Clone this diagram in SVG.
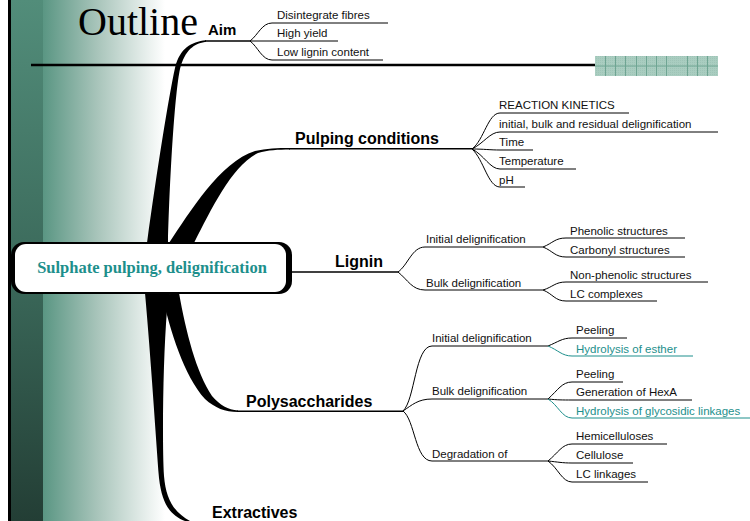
<svg xmlns="http://www.w3.org/2000/svg" width="750" height="521" viewBox="0 0 750 521">
<defs>
<linearGradient id="gH" x1="43" y1="0" x2="165" y2="0" gradientUnits="userSpaceOnUse">
<stop offset="0" stop-color="#5a9683"/>
<stop offset="0.45" stop-color="#a9c5bb"/>
<stop offset="1" stop-color="#ffffff"/>
</linearGradient>
<linearGradient id="gV" x1="0" y1="0" x2="0" y2="521" gradientUnits="userSpaceOnUse">
<stop offset="0" stop-color="#528d7a"/>
<stop offset="0.5" stop-color="#3c6b5c"/>
<stop offset="1" stop-color="#233e35"/>
</linearGradient>
<pattern id="chk" x="0" y="0" width="2" height="2" patternUnits="userSpaceOnUse">
<rect width="2" height="2" fill="#a9cdc0"/>
<rect width="1" height="1" fill="#9fc4b7"/>
</pattern>
</defs>
<style>
.sm{font-family:"Liberation Sans",Arial,sans-serif;font-size:11.5px;fill:#111}
.tl{fill:#1d8f8c}
.bg{font-family:"Liberation Sans",Arial,sans-serif;font-size:16px;font-weight:bold;fill:#000}
.c{fill:none;stroke:#000;stroke-width:1}
.ct{fill:none;stroke:#1d8f8c;stroke-width:1}
.m{fill:none;stroke:#000;stroke-width:1.5}
.tr{fill:#000}
</style>
<rect width="750" height="521" fill="#fff"/>
<g id="background">
<rect x="43" y="0" width="130" height="521" fill="url(#gH)"/>
<rect x="11" y="0" width="32" height="521" fill="url(#gV)"/>
<rect x="8" y="0" width="3" height="521" fill="#000"/>
<line x1="31" y1="65" x2="596" y2="65" stroke="#000" stroke-width="2.4"/>
<rect x="595" y="56" width="123" height="20" fill="url(#chk)"/>
<g stroke="#6fa593" stroke-width="1">
<line x1="595" y1="66" x2="718" y2="66"/>
<line x1="605.5" y1="56" x2="605.5" y2="76"/>
<line x1="615.5" y1="56" x2="615.5" y2="76"/>
<line x1="625.5" y1="56" x2="625.5" y2="76"/>
<line x1="636.5" y1="56" x2="636.5" y2="76"/>
<line x1="646.5" y1="56" x2="646.5" y2="76"/>
<line x1="656.5" y1="56" x2="656.5" y2="76"/>
<line x1="666.5" y1="56" x2="666.5" y2="76"/>
<line x1="687.5" y1="56" x2="687.5" y2="76"/>
<line x1="697.5" y1="56" x2="697.5" y2="76"/>
<line x1="707.5" y1="56" x2="707.5" y2="76"/>
</g>
<text x="78" y="35" font-family="'Liberation Serif','Times New Roman',serif" font-size="40" fill="#000">Outline</text>
</g>
<g id="connectors">
<path class="tr" d="M147,243 C157,170 169,95 175,68 C180,48 191,42 206,40.3 L206,41.8 C194,43.5 185,50 180,69 C175,92 170,170 168,243 Z"/>
<path class="m" d="M205,41 L250,41"/>
<path class="tr" d="M169,243 C190,212 220,162 255,151 C266,148.5 278,148 290,148 L290,149.5 C278,149.5 268,150 258,153 C232,166 212,208 194,243 Z"/>
<path class="m" d="M289,148.8 L472,148.8"/>
<path class="tr" d="M145,293 C151,360 156,440 159,478 C162,504 170,515 185,521 L190,521 C174,512 166,500 164,476 C162,440 163,360 167,310 L170,293 Z"/>
<path class="tr" d="M162,295 C170,330 184,376 205,399 C215,408 225,412 238,412 L238,410.5 C228,410 220,405 212,396 C196,372 186,332 179,293 Z"/>
<path class="m" d="M237,411.3 L403,411.3"/>
<path class="m" d="M291,272 L398,272"/>
<path class="c" d="M250,41 C258,35 262,23 272,23 L388,23"/>
<path class="c" d="M250,41 L338,41"/>
<path class="c" d="M250,41 C258,47 262,60 272,60 L383,60"/>
<path class="c" d="M472,149 C484,140 488,113 500,113 L629,113"/>
<path class="c" d="M472,149 C484,143 490,132 500,132 L718,132"/>
<path class="c" d="M472,149 C484,149 490,150 500,150 L533,150"/>
<path class="c" d="M472,149 C484,155 490,169 500,169 L576,169"/>
<path class="c" d="M472,149 C484,160 488,187 500,187 L525,187"/>
<path class="c" d="M398,272 C408,265 412,247 425,247 L543,247"/>
<path class="c" d="M398,272 C408,280 412,290 425,290 L543,290"/>
<path class="c" d="M543,247 C553,243 555,238 566,238 L685,238"/>
<path class="c" d="M543,247 C553,251 555,257 566,257 L685,257"/>
<path class="c" d="M543,290 C553,287 555,282 566,282 L708,282"/>
<path class="c" d="M543,290 C553,294 555,301 566,301 L657,301"/>
<path class="c" d="M403,411 C415,400 415,346 432,346 L548,346"/>
<path class="c" d="M403,411 C412,405 418,399 432,399 L548,399"/>
<path class="c" d="M403,411 C415,420 415,461 432,461 L548,461"/>
<path class="c" d="M548,346 C558,342 562,338 572,338 L627,338"/>
<path class="ct" d="M548,346 C558,350 562,356 572,356 L693,356"/>
<path class="c" d="M548,399 C558,390 562,382 572,382 L623,382"/>
<path class="c" d="M548,399 C558,400 562,400 572,400 L692,400"/>
<path class="ct" d="M548,399 C558,405 562,418 572,418 L750,418"/>
<path class="c" d="M548,461 C558,453 562,444 572,444 L667,444"/>
<path class="c" d="M548,461 C558,462 562,463 572,463 L633,463"/>
<path class="c" d="M548,461 C558,468 562,482 572,482 L648,482"/>
</g>
<g id="center">
<rect x="11" y="242" width="281" height="52" rx="13" fill="#000"/>
<rect x="15" y="244" width="271" height="48" rx="11" fill="#fff"/>
<text x="152" y="273" text-anchor="middle" font-family="'Liberation Serif','Times New Roman',serif" font-size="16.5" font-weight="bold" fill="#1d8f8c">Sulphate pulping, delignification</text>
</g>
<g id="aim">
<text x="208" y="35" class="bg" style="font-size:15px">Aim</text>
<text x="277" y="19" class="sm">Disintegrate fibres</text>
<text x="277" y="37" class="sm">High yield</text>
<text x="277" y="56" class="sm">Low lignin content</text>
</g>
<g id="pulping">
<text x="295" y="144" class="bg">Pulping conditions</text>
<text x="499" y="109" class="sm">REACTION KINETICS</text>
<text x="499" y="128" class="sm">initial, bulk and residual delignification</text>
<text x="499" y="146" class="sm">Time</text>
<text x="499" y="165" class="sm">Temperature</text>
<text x="499" y="184" class="sm">pH</text>
</g>
<g id="lignin">
<text x="335" y="267" class="bg">Lignin</text>
<text x="426" y="243" class="sm">Initial delignification</text>
<text x="426" y="287" class="sm">Bulk delignification</text>
<text x="570" y="235" class="sm">Phenolic structures</text>
<text x="570" y="254" class="sm">Carbonyl structures</text>
<text x="570" y="279" class="sm">Non-phenolic structures</text>
<text x="570" y="298" class="sm">LC complexes</text>
</g>
<g id="polysaccharides">
<text x="246" y="407" class="bg">Polysaccharides</text>
<text x="432" y="342" class="sm">Initial delignification</text>
<text x="432" y="395" class="sm">Bulk delignification</text>
<text x="432" y="458" class="sm">Degradation of</text>
<text x="576" y="334" class="sm">Peeling</text>
<text x="576" y="353" class="sm tl">Hydrolysis of esther</text>
<text x="576" y="378" class="sm">Peeling</text>
<text x="576" y="396" class="sm">Generation of HexA</text>
<text x="576" y="415" class="sm tl">Hydrolysis of glycosidic linkages</text>
<text x="576" y="440" class="sm">Hemicelluloses</text>
<text x="576" y="459" class="sm">Cellulose</text>
<text x="576" y="478" class="sm">LC linkages</text>
</g>
<g id="extractives">
<text x="212" y="518" class="bg">Extractives</text>
</g>
</svg>
